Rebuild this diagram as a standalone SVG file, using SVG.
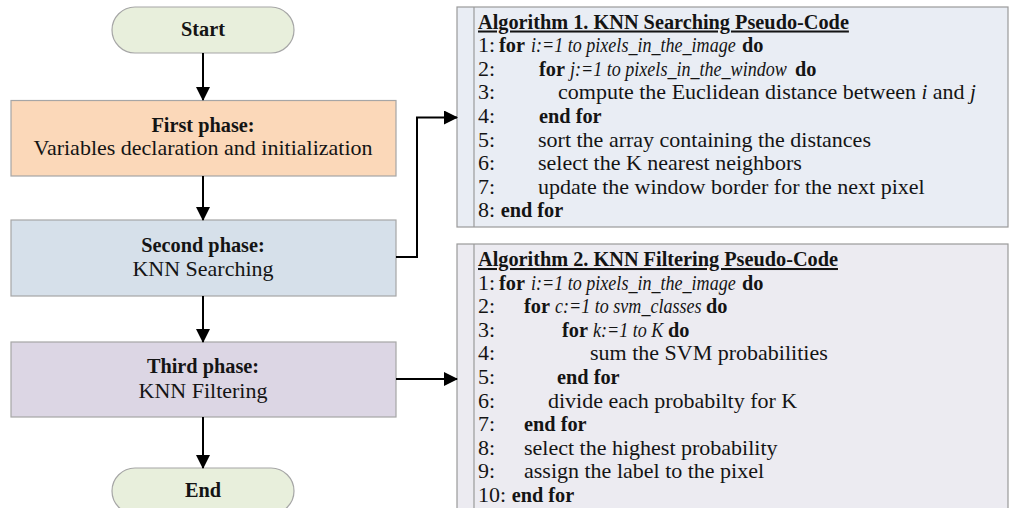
<svg xmlns="http://www.w3.org/2000/svg" width="1011" height="508" viewBox="0 0 1011 508">
<defs>
<marker id="arr" markerWidth="7" markerHeight="7" refX="6.5" refY="3.5" orient="auto" markerUnits="strokeWidth">
<path d="M0,0 L7,3.5 L0,7 Z" fill="#000"/>
</marker>
<style>
text{font-family:"Liberation Serif","Times New Roman",serif;font-size:22px;fill:#141414}
.c{text-anchor:middle}
.b{font-weight:bold;font-size:20.3px}
.i{font-style:italic;font-size:21px}
.u{text-decoration:underline}
.term{fill:#e8efdc;stroke:#a6a6a6;stroke-width:1.2}
.box{stroke:#a6a6a6;stroke-width:1.2}
.alg{stroke:#9a9a9a;stroke-width:1.2}
.con{fill:none;stroke:#000;stroke-width:2;marker-end:url(#arr)}
</style>
</defs>
<rect width="1011" height="508" fill="#fff"/>

<g id="start">
<rect class="term" x="112" y="7" width="182" height="46" rx="23"/>
<text class="c b" x="203" y="36">Start</text>
</g>
<g id="first">
<rect class="box" x="11" y="100.5" width="385" height="75.5" fill="#fbd8b9"/>
<text class="c b" x="203" y="132">First phase:</text>
<text class="c" x="203" y="155">Variables declaration and initialization</text>
</g>
<g id="second">
<rect class="box" x="11" y="220" width="385" height="76" fill="#d6e0ea"/>
<text class="c b" x="203" y="252">Second phase:</text>
<text class="c" x="203" y="276">KNN Searching</text>
</g>
<g id="third">
<rect class="box" x="11" y="342" width="385" height="75" fill="#dcd6e4"/>
<text class="c b" x="203" y="373">Third phase:</text>
<text class="c" x="203" y="398">KNN Filtering</text>
</g>
<g id="end">
<rect class="term" x="112" y="468" width="182" height="46" rx="23"/>
<text class="c b" x="203" y="497">End</text>
</g>

<g id="alg1">
<rect class="alg" x="457" y="7" width="551" height="220" fill="#e9edf4"/>
<line class="alg" x1="474" y1="7" x2="474" y2="227"/>
<text class="b u" x="478" y="28.5">Algorithm 1. KNN Searching Pseudo-Code</text>
<text x="478" y="52.1">1:</text>
<text class="b" x="499" y="52.1">for</text>
<text class="i" transform="translate(531 52.1) scale(0.86 1)">i:=1 to pixels_in_the_image</text>
<text class="b" x="742" y="52.1">do</text>
<text x="478" y="75.7">2:</text>
<text class="b" x="539" y="75.7">for</text>
<text class="i" transform="translate(570 75.7) scale(0.86 1)">j:=1 to pixels_in_the_window</text>
<text class="b" x="795" y="75.7">do</text>
<text x="478" y="99.3">3:</text>
<text x="558" y="99.3">compute the Euclidean distance between <tspan class="i">i</tspan> and <tspan class="i">j</tspan></text>
<text x="478" y="122.9">4:</text>
<text class="b" x="539" y="122.9">end for</text>
<text x="478" y="146.5">5:</text>
<text x="538" y="146.5">sort the array containing the distances</text>
<text x="478" y="170.1">6:</text>
<text x="538" y="170.1">select the K nearest neighbors</text>
<text x="478" y="193.7">7:</text>
<text x="538" y="193.7">update the window border for the next pixel</text>
<text x="478" y="217.3">8: <tspan class="b">end for</tspan></text>
</g>

<g id="alg2">
<rect class="alg" x="457" y="244" width="551" height="270" fill="#ecebf1"/>
<line class="alg" x1="474" y1="244" x2="474" y2="514"/>
<text class="b u" x="478" y="266">Algorithm 2. KNN Filtering Pseudo-Code</text>
<text x="478" y="289.6">1:</text>
<text class="b" x="499" y="289.6">for</text>
<text class="i" transform="translate(531 289.6) scale(0.86 1)">i:=1 to pixels_in_the_image</text>
<text class="b" x="742" y="289.6">do</text>
<text x="478" y="313.2">2:</text>
<text class="b" x="524" y="313.2">for</text>
<text class="i" transform="translate(555 313.2) scale(0.86 1)">c:=1 to svm_classes</text>
<text class="b" x="706" y="313.2">do</text>
<text x="478" y="336.8">3:</text>
<text class="b" x="562" y="336.8">for</text>
<text class="i" transform="translate(593 336.8) scale(0.86 1)">k:=1 to K</text>
<text class="b" x="668" y="336.8">do</text>
<text x="478" y="360.4">4:</text>
<text x="590" y="360.4">sum the SVM probabilities</text>
<text x="478" y="384">5:</text>
<text class="b" x="557" y="384">end for</text>
<text x="478" y="407.6">6:</text>
<text x="548" y="407.6">divide each probabilty for K</text>
<text x="478" y="431.2">7:</text>
<text class="b" x="524" y="431.2">end for</text>
<text x="478" y="454.8">8:</text>
<text x="524" y="454.8">select the highest probability</text>
<text x="478" y="478.4">9:</text>
<text x="524" y="478.4">assign the label to the pixel</text>
<text x="478" y="502">10: <tspan class="b">end for</tspan></text>
</g>

<g id="connectors">
<line class="con" x1="203" y1="53" x2="203" y2="100"/>
<line class="con" x1="203" y1="176" x2="203" y2="220"/>
<line class="con" x1="203" y1="296" x2="203" y2="342"/>
<line class="con" x1="203" y1="417" x2="203" y2="468"/>
<polyline class="con" points="396,257 417,257 417,117.5 457,117.5"/>
<line class="con" x1="396" y1="379" x2="457" y2="379"/>
</g>
</svg>
